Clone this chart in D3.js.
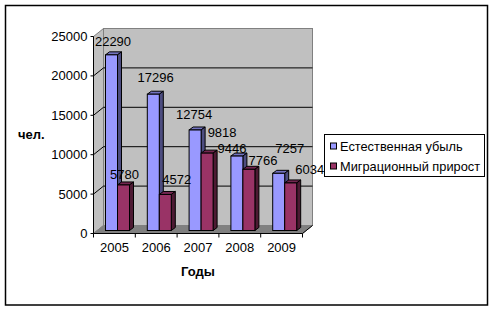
<!DOCTYPE html>
<html>
<head>
<meta charset="utf-8">
<script src="https://cdn.jsdelivr.net/npm/d3@7"></script>
<style>
  html, body { margin: 0; padding: 0; background: #fff; }
  svg { display: block; }
  text { font-family: "Liberation Sans", Arial, sans-serif; fill: #000; }
</style>
</head>
<body>
<div id="chart"></div>
<script>
const years = ['2005', '2006', '2007', '2008', '2009'];
const seriesNames = ['Естественная убыль', 'Миграционный прирост'];
const naturalLoss = [22290, 17296, 12754, 9446, 7257];
const migrationGain = [5780, 4572, 9818, 7766, 6034];
const yTicks = [0, 5000, 10000, 15000, 20000, 25000];

const width = 493;
const height = 310;

// front corner of the 3d box, back wall is shifted by depth
const plot = { left: 93.5, right: 302.5, top: 36.5, bottom: 233.5 };
const depth = { x: 10, y: -8 };
const barDepth = { x: 4, y: -3 };
const barBase = 230.5;

const colors = [
    { front: '#9999ff', side: '#4d4d80', top: '#7373bf' },
    { front: '#993366', side: '#4d1a33', top: '#732650' }
];

// hand placed data labels, offset from the top centre of each bar
const labelOffsets = [
    [[1.5, -9.3], [2.4, -12], [-1, -11], [-5, -3.4], [11, -20]],
    [[1, -6], [11.4, -10.5], [15, -16.4], [14, -4.3], [19, -9]]
];

const svg = d3.select('#chart')
    .append('svg')
    .attr('width', width)
    .attr('height', height);

// outer frame
svg.append('rect')
    .attr('x', 5.5)
    .attr('y', 5.5)
    .attr('width', 482)
    .attr('height', 299.5)
    .attr('fill', '#fff')
    .attr('stroke', '#000')
    .attr('stroke-width', 1.5);

const x = d3.scaleBand()
    .domain(years)
    .range([plot.left, plot.right]);

const inner = d3.scaleBand()
    .domain(d3.range(2))
    .range([12, 36]);

const y = d3.scaleLinear()
    .domain([0, 25000])
    .range([plot.bottom, plot.top]);

// same scale for the bars, they stand half way into the floor
const yBar = d3.scaleLinear()
    .domain([0, 25000])
    .range([barBase, barBase - (plot.bottom - plot.top)]);

const points = pts => pts.map(p => p.join(',')).join(' ');

// walls and floor
svg.append('polygon')
    .attr('points', points([
        [plot.left, plot.top],
        [plot.left + depth.x, plot.top + depth.y],
        [plot.left + depth.x, plot.bottom + depth.y],
        [plot.left, plot.bottom]
    ]))
    .attr('fill', '#c0c0c0')
    .attr('stroke', '#808080');

svg.append('rect')
    .attr('x', plot.left + depth.x)
    .attr('y', plot.top + depth.y)
    .attr('width', plot.right - plot.left)
    .attr('height', plot.bottom - plot.top)
    .attr('fill', '#c0c0c0')
    .attr('stroke', '#808080');

svg.append('polygon')
    .attr('points', points([
        [plot.left, plot.bottom],
        [plot.left + depth.x, plot.bottom + depth.y],
        [plot.right + depth.x, plot.bottom + depth.y],
        [plot.right, plot.bottom]
    ]))
    .attr('fill', '#808080')
    .attr('stroke', '#808080');

// gridlines on both walls
yTicks.filter(d => d > 0 && d < 25000).forEach(d => {
    svg.append('path')
        .attr('d', `M${plot.left},${y(d)}L${plot.left + depth.x},${y(d) + depth.y}H${plot.right + depth.x}`)
        .attr('fill', 'none')
        .attr('stroke', '#000');
});

// axes
svg.append('line')
    .attr('x1', plot.left).attr('x2', plot.left)
    .attr('y1', plot.top).attr('y2', plot.bottom)
    .attr('stroke', '#000');

svg.append('line')
    .attr('x1', plot.left).attr('x2', plot.right)
    .attr('y1', plot.bottom).attr('y2', plot.bottom)
    .attr('stroke', '#000');

svg.append('path')
    .attr('d', `M${plot.right},${plot.bottom}l${depth.x},${depth.y}`)
    .attr('stroke', '#000');

// y ticks
svg.selectAll('.y-tick')
    .data(yTicks)
    .join('line')
    .attr('class', 'y-tick')
    .attr('x1', plot.left - 3)
    .attr('x2', plot.left)
    .attr('y1', d => y(d))
    .attr('y2', d => y(d))
    .attr('stroke', '#000');

svg.selectAll('.y-label')
    .data(yTicks)
    .join('text')
    .attr('class', 'y-label')
    .attr('x', plot.left - 6)
    .attr('y', d => y(d) + 4.5)
    .attr('text-anchor', 'end')
    .style('font-size', '13px')
    .text(d => d);

// x ticks
svg.selectAll('.x-tick')
    .data(d3.range(years.length + 1))
    .join('line')
    .attr('class', 'x-tick')
    .attr('x1', i => plot.left + i * x.step())
    .attr('x2', i => plot.left + i * x.step())
    .attr('y1', plot.bottom)
    .attr('y2', plot.bottom + 4)
    .attr('stroke', '#000');

svg.selectAll('.x-label')
    .data(years)
    .join('text')
    .attr('class', 'x-label')
    .attr('x', d => x(d) + x.bandwidth() / 2)
    .attr('y', 252)
    .attr('text-anchor', 'middle')
    .style('font-size', '13px')
    .text(d => d);

// bars, drawn year by year so that the second series covers the first
const rows = years.flatMap((year, i) => [naturalLoss[i], migrationGain[i]].map((value, s) => ({ year, i, s, value })));

const bars = svg.selectAll('.bar')
    .data(rows)
    .join('g')
    .attr('class', 'bar');

bars.append('polygon')
    .attr('points', d => {
        const x0 = x(d.year) + inner(d.s);
        const x1 = x0 + inner.bandwidth();
        const t = yBar(d.value);
        return points([[x0, t], [x0 + barDepth.x, t + barDepth.y], [x1 + barDepth.x, t + barDepth.y], [x1, t]]);
    })
    .attr('fill', d => colors[d.s].top)
    .attr('stroke', '#000');

bars.append('polygon')
    .attr('points', d => {
        const x1 = x(d.year) + inner(d.s) + inner.bandwidth();
        const t = yBar(d.value);
        return points([[x1, t], [x1 + barDepth.x, t + barDepth.y], [x1 + barDepth.x, yBar(0) + barDepth.y], [x1, yBar(0)]]);
    })
    .attr('fill', d => colors[d.s].side)
    .attr('stroke', '#000');

bars.append('rect')
    .attr('x', d => x(d.year) + inner(d.s))
    .attr('y', d => yBar(d.value))
    .attr('width', inner.bandwidth())
    .attr('height', d => yBar(0) - yBar(d.value))
    .attr('fill', d => colors[d.s].front)
    .attr('stroke', '#000');

// data labels
svg.selectAll('.value-label')
    .data(rows)
    .join('text')
    .attr('class', 'value-label')
    .attr('x', d => x(d.year) + inner(d.s) + inner.bandwidth() / 2 + labelOffsets[d.s][d.i][0])
    .attr('y', d => yBar(d.value) + labelOffsets[d.s][d.i][1])
    .attr('text-anchor', 'middle')
    .style('font-size', '13px')
    .text(d => d.value);

// axis titles
svg.append('text')
    .attr('x', 18)
    .attr('y', 139)
    .style('font-size', '13px')
    .style('font-weight', 'bold')
    .text('чел.');

svg.append('text')
    .attr('x', 198)
    .attr('y', 276)
    .attr('text-anchor', 'middle')
    .style('font-size', '13px')
    .style('font-weight', 'bold')
    .text('Годы');

// legend
const legend = svg.append('g');

legend.append('rect')
    .attr('x', 324.5)
    .attr('y', 134.5)
    .attr('width', 160)
    .attr('height', 42)
    .attr('fill', '#fff')
    .attr('stroke', '#000');

const legendY = d3.scalePoint()
    .domain(seriesNames)
    .range([146, 166]);

legend.selectAll('.swatch')
    .data(seriesNames)
    .join('rect')
    .attr('class', 'swatch')
    .attr('x', 330.5)
    .attr('y', d => legendY(d) - 3)
    .attr('width', 6)
    .attr('height', 6)
    .attr('fill', (d, i) => colors[i].front)
    .attr('stroke', '#000');

legend.selectAll('.legend-label')
    .data(seriesNames)
    .join('text')
    .attr('class', 'legend-label')
    .attr('x', 340)
    .attr('y', d => legendY(d) + 5)
    .style('font-size', '12.8px')
    .text(d => d);
</script>
</body>
</html>
